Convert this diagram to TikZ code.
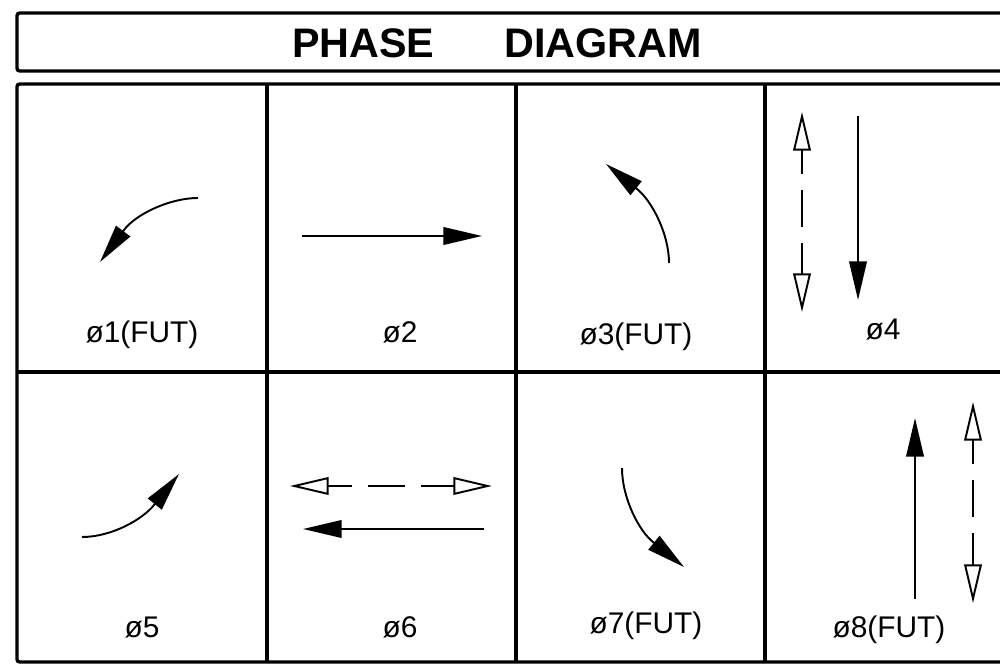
\documentclass[tikz,border=0pt]{standalone}
\usepackage{fontspec}
\setmainfont{Liberation Sans}
\usetikzlibrary{arrows.meta, positioning}
\tikzstyle{frame} = [line width=1.9pt, rounded corners=1.5pt]
\tikzstyle{title} = [font=\fontsize{23.5}{28}\selectfont\bfseries, inner sep=0pt]
\tikzstyle{phase} = [font=\fontsize{17}{20}\selectfont, inner sep=0pt, anchor=base]
\tikzstyle{solid arrow} = [line width=1.1pt, -{Triangle[length=22pt, width=10pt]}]
\tikzstyle{open arrow} = [line width=1.1pt,
    {Triangle[open, length=22pt, width=10pt]}-{Triangle[open, length=22pt, width=10pt]},
    dash pattern=on 21.5pt off 9pt, dash phase=8pt]

\begin{document}
\begin{tikzpicture}[x=0.02cm, y=-0.02cm]
\useasboundingbox (0,0) rectangle (1000,671);
\clip (0,0) rectangle (1000,671);

% title box
\draw[frame] (17,13) rectangle (1020,71);
\node (title) [title] at (497,43) {PHASE\hspace{40pt}DIAGRAM};

% grid
\draw[frame] (17,84) rectangle (1020,662);
\draw[line width=1.9pt] (17,372) -- (1020,372);
\foreach \x in {267,516,765}
  \draw[line width=1.9pt] (\x,84) -- (\x,662);

% labels
\node (p1) [phase] at (142,343) {ø1(FUT)};
\node (p2) [phase] at (400,343) {ø2};
\node (p3) [phase] at (636,345) {ø3(FUT)};
\node (p4) [phase] at (883,340) {ø4};
\node (p5) [phase] at (142,637) {ø5};
\node (p6) [phase] at (400,637) {ø6};
\node (p7) [phase] at (646,633) {ø7(FUT)};
\node (p8) [phase] at (889,637) {ø8(FUT)};

% phase 1
\draw[solid arrow] (198,198) .. controls (170,198) and (136,214) .. (124,230) -- (100,262);
% phase 2
\draw[solid arrow] (302,236) -- (482,236);
% phase 3
\draw[solid arrow] (669,263) .. controls (669,233) and (651,200) .. (637,189) -- (606,164);
% phase 4
\draw[open arrow] (802,112) -- (802,312);
\draw[solid arrow] (858,116) -- (858,300);
% phase 5
\draw[solid arrow] (82,537) .. controls (112,537) and (143,519) .. (154,505) -- (179,474);
% phase 6
\draw[open arrow] (290,486) -- (492,486);
\draw[solid arrow] (484,529) -- (303,529);
% phase 7
\draw[solid arrow] (622,468) .. controls (622,498) and (639,531) .. (653,542) -- (684,567);
% phase 8
\draw[solid arrow] (915,599) -- (915,418);
\draw[open arrow] (973,402) -- (973,603);
\end{tikzpicture}
\end{document}
